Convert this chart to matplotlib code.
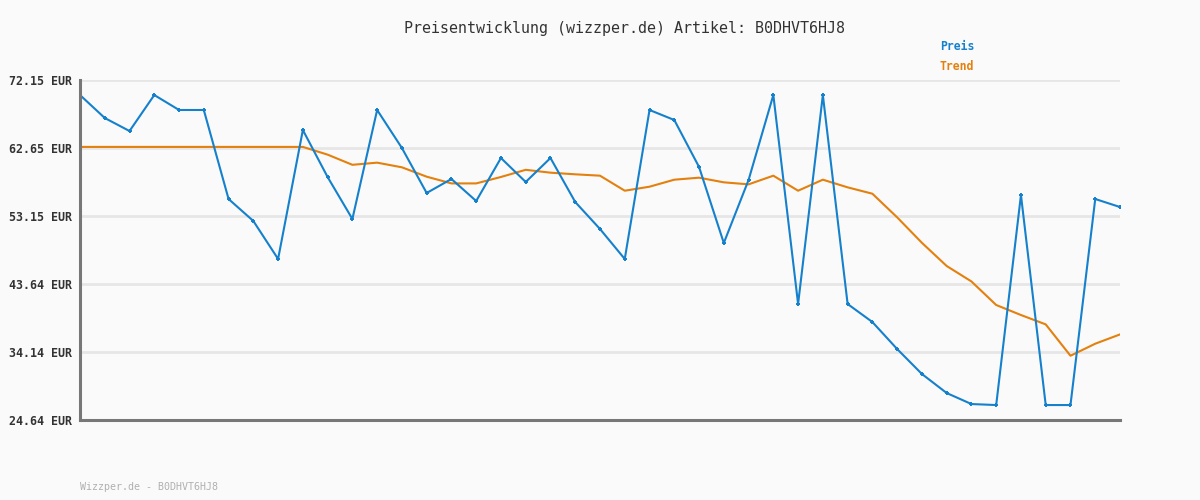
import numpy as np
import matplotlib
matplotlib.use("Agg")
import matplotlib.pyplot as plt

plt.rcParams.update({"font.family": "DejaVu Sans Mono"})
BLUE, ORANGE, BG, GRID, AXC = "#1580cc", "#e3800e", "#fafafa", "#e6e6e6", "#777777"

preis = [70.05, 66.84, 65.02, 70.05, 67.96, 67.96, 55.52, 52.45, 47.14, 65.16,
         58.59, 52.73, 67.96, 62.65, 56.36, 58.32, 55.24, 61.25, 57.90, 61.25,
         55.10, 51.33, 47.14, 67.96, 66.56, 60.00, 49.37, 58.18, 70.05, 40.85,
         70.05, 40.85, 38.33, 34.56, 31.07, 28.41, 26.87, 26.73, 56.08, 26.73,
         26.73, 55.52, 54.40]
trend = [62.80, 62.80, 62.80, 62.80, 62.80, 62.80, 62.80, 62.80, 62.80, 62.80,
         61.72, 60.30, 60.60, 59.95, 58.64, 57.70, 57.70, 58.60, 59.60, 59.20,
         58.97, 58.78, 56.68, 57.24, 58.22, 58.50, 57.85, 57.57, 58.78, 56.68,
         58.22, 57.15, 56.26, 52.96, 49.40, 46.16, 44.00, 40.71, 39.31, 38.00,
         33.62, 35.30, 36.60]
yticks = [24.64, 34.14, 43.64, 53.15, 62.65, 72.15]
ytick_labels = ["24.64 EUR", "34.14 EUR", "43.64 EUR", "53.15 EUR", "62.65 EUR", "72.15 EUR"]

x = np.arange(len(preis))
fig = plt.figure(figsize=(12, 5), dpi=100, facecolor=BG)
ax = fig.add_axes([80/1200, 80/500, 1040/1200, 340/500], facecolor=BG)

ax.plot(x, trend, color=ORANGE, lw=1.5, zorder=3)
ax.plot(x, preis, color=BLUE, lw=1.5, marker="+", ms=3.5, mew=1.4, zorder=4)

ax.set_xlim(0, len(preis) - 1)
ax.set_ylim(yticks[0], yticks[-1])
ax.set_yticks(yticks)
ax.set_yticklabels(ytick_labels, fontsize=8.4, fontweight="bold", color="#333333")
ax.set_xticks([])
ax.tick_params(axis="y", length=0, pad=6)
for yv in yticks[1:]:
    ax.axhline(yv, color=GRID, lw=2, zorder=1)
for s in ["top", "right"]:
    ax.spines[s].set_visible(False)
for s in ["left", "bottom"]:
    ax.spines[s].set_color(AXC)
    ax.spines[s].set_linewidth(2.2)
    ax.spines[s].set_zorder(5)

fig.text(624/1200, 1 - 28/500, "Preisentwicklung (wizzper.de) Artikel: B0DHVT6HJ8",
         ha="center", va="center", fontsize=10.8, color="#333333")
fig.text(940/1200, 1 - 47/500, "Preis", ha="left", va="center", fontsize=8.3,
         fontweight="bold", color=BLUE)
fig.text(940/1200, 1 - 67/500, "Trend", ha="left", va="center", fontsize=8.3,
         fontweight="bold", color=ORANGE)
fig.text(80/1200, 1 - 487/500, "Wizzper.de - B0DHVT6HJ8", ha="left", va="center",
         fontsize=7.2, color="#b0b0b0")

plt.savefig("out.png", dpi=100, facecolor=BG)
plt.close()
